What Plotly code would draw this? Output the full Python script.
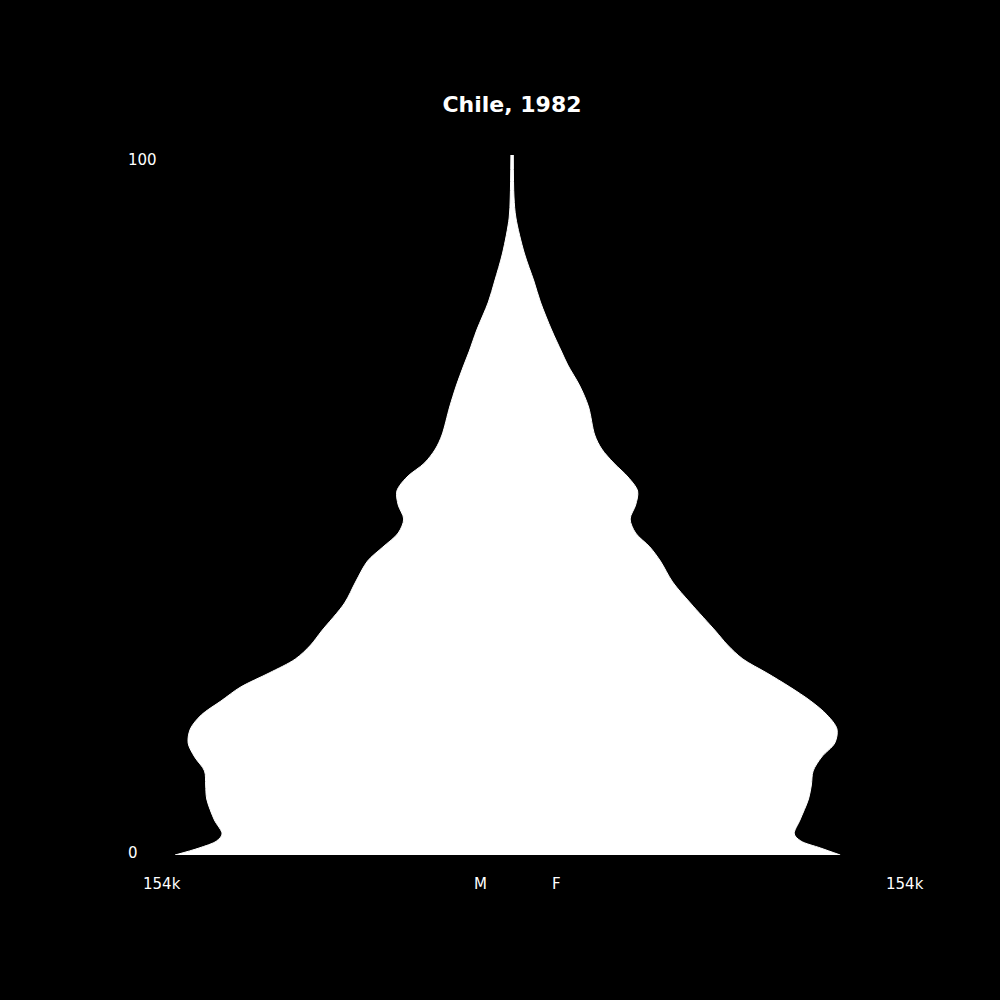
#!/usr/bin/env python3

# Population pyramid for Chile, 1982.
# White silhouette on black, men on the left, women on the right.
import plotly.graph_objects as go

# Ages (years) at which the outline was read.
ages = [0, 1, 2, 3, 5, 8, 10, 12, 14, 16, 18, 20, 22, 24, 26, 28, 30, 32,
        36, 39, 42, 44, 46, 48, 50, 52, 54, 56, 58, 60, 64, 67, 70, 72,
        75, 79, 82, 86, 91, 94, 100]

# Population in thousands at each age.
male = [154, 143, 135, 132.5, 136, 139.5, 140, 140.5, 145, 148, 147, 142,
        133, 124, 111, 99, 92, 87, 76.5, 71.5, 66, 59, 52, 49.5, 52, 52.6,
        48, 40, 35, 32, 28.5, 25.5, 22, 19.5, 16.1, 10.8, 7.9, 4.3, 1.3,
        0.8, 0.5]
female = [150, 141, 132, 129, 131.6, 135.5, 136.8, 137.6, 141.5, 147.5,
          148.5, 144, 136.5, 127, 116.5, 105.5, 98.5, 93, 81.5, 73.4, 67.8,
          63, 56.5, 54, 56.5, 57.4, 53, 46.5, 41, 37.8, 35, 31, 25.5,
          22.5, 18.1, 13, 10, 5.6, 1.8, 0.9, 0.6]

max_pop = 154  # thousands, both sides of the x axis
title = "Chile, 1982"
side_labels = ["M", "F"]

fig = go.Figure()

# Each side is filled back to the centre line.
fig.add_trace(go.Scatter(
    x=[-v * 1000 for v in male], y=ages,
    mode="lines", line=dict(color="white", width=1, shape="spline", smoothing=0.9),
    fill="tozerox", fillcolor="white", hoverinfo="skip"))
fig.add_trace(go.Scatter(
    x=[v * 1000 for v in female], y=ages,
    mode="lines", line=dict(color="white", width=1, shape="spline", smoothing=0.9),
    fill="tozerox", fillcolor="white", hoverinfo="skip"))

label_font = dict(family="DejaVu Sans", size=15, color="white")

annotations = [
    dict(text=str(max(ages)), x=-0.0727, y=0.993, xanchor="left"),
    dict(text=str(min(ages)), x=-0.0727, y=0.003, xanchor="left"),
    dict(text="%dk" % max_pop, x=-0.020, y=-0.0414, xanchor="center"),
    dict(text=side_labels[0], x=0.454, y=-0.0414, xanchor="center"),
    dict(text=side_labels[1], x=0.566, y=-0.0414, xanchor="center"),
    dict(text="%dk" % max_pop, x=1.083, y=-0.0414, xanchor="center"),
]
for a in annotations:
    a.update(xref="paper", yref="paper", yanchor="middle",
             showarrow=False, font=label_font)

fig.update_layout(
    width=1000, height=1000,
    margin=dict(l=175, r=151, t=155, b=145),
    paper_bgcolor="black", plot_bgcolor="black",
    showlegend=False,
    title=dict(text="<b>%s</b>" % title, x=0.5, xref="paper",
               y=0.896, yref="container", xanchor="center", yanchor="middle",
               font=dict(family="DejaVu Sans", size=22, color="white")),
    annotations=annotations,
)
fig.update_xaxes(range=[-max_pop * 1000, max_pop * 1000], visible=False,
                 showgrid=False, zeroline=False)
fig.update_yaxes(range=[0, 100], visible=False, showgrid=False, zeroline=False)

# No page margin and no modebar, so the black figure fills the window.
fig.write_html("out.html", config={"displayModeBar": False},
               post_script="document.body.style.margin='0';"
                           "document.body.style.background='black';")
